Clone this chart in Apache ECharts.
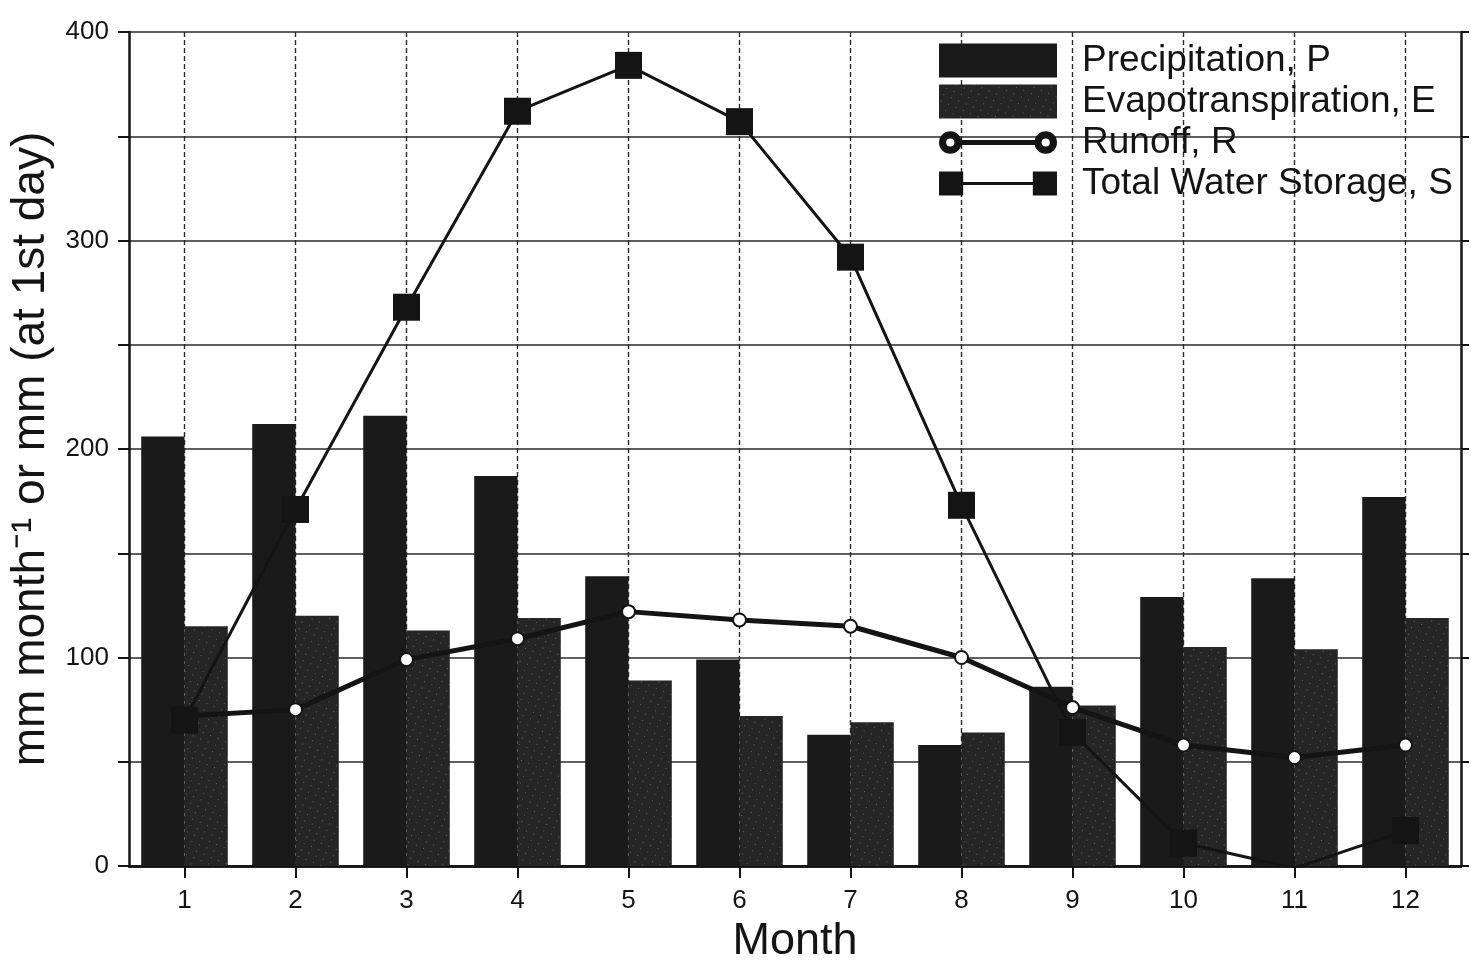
<!DOCTYPE html>
<html>
<head>
<meta charset="utf-8">
<script src="https://cdn.jsdelivr.net/npm/echarts@6/dist/echarts.min.js"></script>
<style>
  html, body { margin: 0; padding: 0; background: #ffffff; }
  #chart { width: 1471px; height: 965px; }
</style>
</head>
<body>
<div id="chart"></div>
<script>
// ---- data ----
const months = ['1', '2', '3', '4', '5', '6', '7', '8', '9', '10', '11', '12'];
const precipitation = [206, 212, 216, 187, 139, 99, 63, 58, 86, 129, 138, 177];
const evapotranspiration = [115, 120, 113, 119, 89, 72, 69, 64, 77, 105, 104, 119];
const runoff = [72, 75, 99, 109, 122, 118, 115, 100, 76, 58, 52, 58];
const storage = [70, 171, 268, 362, 384, 357, 292, 173, 64, 11, -1, 17];
const yTicks = [0, 100, 200, 300, 400];

const seriesNames = ['Precipitation, P', 'Evapotranspiration, E', 'Runoff, R', 'Total Water Storage, S'];

const FONT = "'Liberation Sans', Arial, Helvetica, sans-serif";
const INK = '#141414';

const runoffIcon = 'path://M0,11 A11,11 0 1,1 22,11 A11,11 0 1,1 0,11 Z M7,11 A4,4 0 1,0 15,11 A4,4 0 1,0 7,11 Z ' +
  'M93,11 A11,11 0 1,1 115,11 A11,11 0 1,1 93,11 Z M100,11 A4,4 0 1,0 108,11 A4,4 0 1,0 100,11 Z ' +
  'M20,8.5 L95,8.5 L95,13.5 L20,13.5 Z';
const storageIcon = 'path://M0,0 L25,0 L25,25 L0,25 Z M97,0 L122,0 L122,25 L97,25 Z M24,11 L98,11 L98,14 L24,14 Z';

const chart = echarts.init(document.getElementById('chart'), null, { renderer: 'canvas' });

const option = {
  backgroundColor: '#ffffff',
  animation: false,
  textStyle: { fontFamily: FONT, color: INK },
  grid: {
    left: 129, right: 10, top: 32, bottom: 99,
    containLabel: false,
    outerBoundsMode: 'none'
  },
  legend: {
    orient: 'vertical',
    left: 934,
    top: 37,
    itemWidth: 118,
    itemHeight: 34,
    itemGap: 4,
    align: 'left',
    selectedMode: false,
    itemStyle: { borderWidth: 0 },
    textStyle: { fontFamily: FONT, fontSize: 37, color: INK, padding: [0, 0, 0, 20] },
    data: [
      { name: seriesNames[0], icon: 'rect' },
      { name: seriesNames[1], icon: 'rect' },
      { name: seriesNames[2], icon: runoffIcon },
      { name: seriesNames[3], icon: storageIcon }
    ]
  },
  xAxis: [
    {
      type: 'category',
      position: 'bottom',
      data: months,
      boundaryGap: true,
      axisLine: { show: true, lineStyle: { color: INK, width: 2.5 } },
      axisTick: { show: true, alignWithLabel: true, length: 12, lineStyle: { color: INK, width: 2 } },
      axisLabel: { fontFamily: FONT, fontSize: 26, color: INK, margin: 22 },
      splitLine: { show: true, alignWithLabel: true, lineStyle: { color: '#2a2a2a', width: 1.4, type: [5, 3] } },
      name: 'Month',
      nameLocation: 'middle',
      nameGap: 50,
      nameTextStyle: { fontFamily: FONT, fontSize: 45, color: INK }
    },
    {
      type: 'category',
      position: 'top',
      data: months,
      boundaryGap: true,
      axisLine: { show: true, lineStyle: { color: INK, width: 2.5 } },
      axisTick: { show: true, alignWithLabel: true, length: 10, lineStyle: { color: INK, width: 2 } },
      axisLabel: { show: false },
      splitLine: { show: false }
    }
  ],
  yAxis: [
    {
      type: 'value',
      position: 'left',
      min: 0, max: 400, interval: 50,
      axisLine: { show: true, lineStyle: { color: INK, width: 2.5 } },
      axisTick: { show: true, length: 11, lineStyle: { color: INK, width: 2 } },
      axisLabel: {
        fontFamily: FONT, fontSize: 26, color: INK, margin: 20,
        formatter: function (v) { return yTicks.indexOf(v) >= 0 ? String(v) : ''; }
      },
      splitLine: { show: true, lineStyle: { color: '#2a2a2a', width: 1.5, type: 'solid' } },
      name: 'mm month\u207B\u00B9 or mm (at 1st day)',
      nameLocation: 'middle',
      nameGap: 66,
      nameTextStyle: { fontFamily: FONT, fontSize: 46, color: INK }
    },
    {
      type: 'value',
      position: 'right',
      min: 0, max: 400, interval: 50,
      axisLine: { show: true, lineStyle: { color: INK, width: 2.5 } },
      axisTick: { show: true, length: 8, lineStyle: { color: INK, width: 2 } },
      axisLabel: { show: false },
      splitLine: { show: false }
    }
  ],
  series: [
    {
      name: seriesNames[0],
      type: 'bar',
      xAxisIndex: 0, yAxisIndex: 0,
      data: precipitation,
      barGap: '0%',
      barCategoryGap: '22%',
      itemStyle: { color: '#1a1a1a' },
      z: 2
    },
    {
      name: seriesNames[1],
      type: 'bar',
      xAxisIndex: 0, yAxisIndex: 0,
      data: evapotranspiration,
      barGap: '0%',
      barCategoryGap: '22%',
      itemStyle: {
        color: '#252525',
        decal: {
          symbol: 'rect',
          symbolSize: 1,
          color: 'rgba(255,255,255,0.28)',
          dashArrayX: [1, 7],
          dashArrayY: [1, 6],
          rotation: 0.4
        }
      },
      z: 2
    },
    {
      name: seriesNames[2],
      type: 'line',
      xAxisIndex: 0, yAxisIndex: 0,
      data: runoff,
      clip: true,
      symbol: 'emptyCircle',
      symbolSize: 13,
      lineStyle: { color: INK, width: 5 },
      itemStyle: { color: INK, borderColor: INK, borderWidth: 5 },
      z: 4
    },
    {
      name: seriesNames[3],
      type: 'line',
      xAxisIndex: 0, yAxisIndex: 0,
      data: storage,
      clip: true,
      symbol: 'rect',
      symbolSize: 27,
      lineStyle: { color: INK, width: 3 },
      itemStyle: { color: INK, borderWidth: 0 },
      z: 5
    }
  ]
};

chart.setOption(option);
</script>
</body>
</html>
